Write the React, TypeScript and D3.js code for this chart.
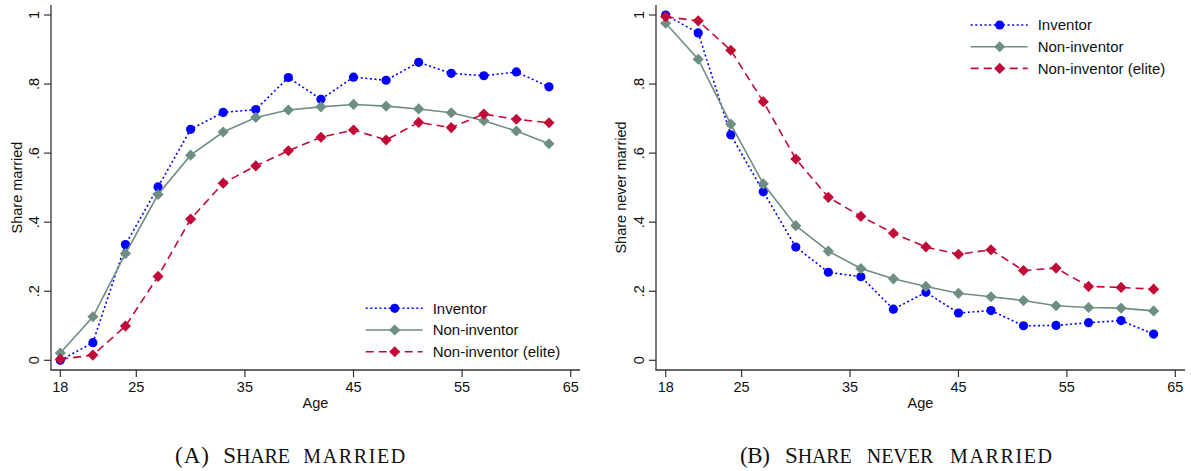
import React from "react";
import * as d3 from "d3";

const ages = [18, 21, 24, 27, 30, 33, 36, 39, 42, 45, 48, 51, 54, 57, 60, 63];

const marriedInventor = [0.0, 0.051, 0.335, 0.502, 0.669, 0.718, 0.726, 0.819, 0.756, 0.82, 0.811, 0.863, 0.831, 0.824, 0.835, 0.792];
const marriedNonInventor = [0.021, 0.126, 0.309, 0.48, 0.594, 0.661, 0.703, 0.725, 0.734, 0.741, 0.736, 0.728, 0.717, 0.694, 0.664, 0.627];
const marriedElite = [0.003, 0.015, 0.099, 0.243, 0.409, 0.513, 0.563, 0.607, 0.646, 0.667, 0.638, 0.689, 0.674, 0.713, 0.698, 0.688];

const neverInventor = [1.0, 0.948, 0.653, 0.488, 0.328, 0.255, 0.242, 0.148, 0.197, 0.137, 0.144, 0.1, 0.101, 0.109, 0.115, 0.076];
const neverNonInventor = [0.976, 0.872, 0.684, 0.511, 0.39, 0.316, 0.266, 0.236, 0.214, 0.194, 0.184, 0.173, 0.158, 0.153, 0.151, 0.143];
const neverElite = [0.995, 0.983, 0.898, 0.749, 0.583, 0.472, 0.417, 0.368, 0.328, 0.307, 0.32, 0.26, 0.267, 0.214, 0.211, 0.206];

const seriesNames = ["Inventor", "Non-inventor", "Non-inventor (elite)"];
const xTicks = [18, 25, 35, 45, 55, 65];
const yTicks = [0, 0.2, 0.4, 0.6, 0.8, 1];
const yTickLabels = ["0", ".2", ".4", ".6", ".8", "1"];

const BLUE = "#0000ff";
const GRAY = "#6e8e84";
const RED = "#c10a37";
const AXIS = "#333333";
const FONT = "'Liberation Sans', Arial, Helvetica, sans-serif";
const SERIF = "'Liberation Serif', 'Times New Roman', serif";

const styles = [
  { color: BLUE, dash: "2,2.6", symbol: "circle" },
  { color: GRAY, dash: null, symbol: "diamond" },
  { color: RED, dash: "8,5", symbol: "diamond" },
];

const circlePath = d3.symbol().type(d3.symbolCircle).size(Math.PI * 4.6 * 4.6)() as string;
const diamondPath = d3.symbol().type(d3.symbolSquare).size(62)() as string;

function Marker({ x, y, kind, color }: { x: number; y: number; kind: string; color: string }) {
  if (kind === "circle") return <path d={circlePath} transform={`translate(${x},${y})`} fill={color} />;
  return <path d={diamondPath} transform={`translate(${x},${y}) rotate(45)`} fill={color} />;
}

function Panel(props: {
  axisX: number;
  xRange: [number, number];
  axisRight: number;
  yTitle: string;
  yTitleX: number;
  yLabelX: number;
  data: number[][];
  legendX: number;
  legendY: number;
}) {
  const { axisX, xRange, axisRight, yTitle, yTitleX, yLabelX, data, legendX, legendY } = props;
  const x = d3.scaleLinear().domain([18, 65]).range(xRange);
  const y = d3.scaleLinear().domain([0, 1]).range([360.3, 15]);
  const axisY = 370;
  const line = d3
    .line<number>()
    .x((_, i) => x(ages[i]))
    .y((d) => y(d));
  const centerX = (axisX + axisRight) / 2;
  const centerY = (5 + axisY) / 2;
  return (
    <g>
      <line x1={axisX} x2={axisX} y1={5} y2={axisY} stroke={AXIS} strokeWidth={1.3} />
      <line x1={axisX - 0.6} x2={axisRight} y1={axisY} y2={axisY} stroke={AXIS} strokeWidth={1.3} />
      {yTicks.map((t, i) => (
        <g key={"y" + t}>
          <line x1={axisX - 7} x2={axisX} y1={y(t)} y2={y(t)} stroke={AXIS} strokeWidth={1.2} />
          <text
            transform={`translate(${yLabelX},${y(t)}) rotate(-90)`}
            textAnchor="middle"
            dy="0.36em"
            fontFamily={FONT}
            fontSize={14.5}
            fill="#111"
          >
            {yTickLabels[i]}
          </text>
        </g>
      ))}
      {xTicks.map((t) => (
        <g key={"x" + t}>
          <line x1={x(t)} x2={x(t)} y1={axisY} y2={axisY + 7} stroke={AXIS} strokeWidth={1.2} />
          <text x={x(t)} y={axisY + 22} textAnchor="middle" fontFamily={FONT} fontSize={14.5} fill="#111">
            {t}
          </text>
        </g>
      ))}
      <text x={centerX} y={axisY + 38} textAnchor="middle" fontFamily={FONT} fontSize={14.5} fill="#111">
        Age
      </text>
      <text
        transform={`translate(${yTitleX},${centerY}) rotate(-90)`}
        textAnchor="middle"
        dy="0.36em"
        fontFamily={FONT}
        fontSize={14.5}
        fill="#111"
      >
        {yTitle}
      </text>
      {data.map((vals, si) => (
        <g key={"s" + si}>
          <path
            d={line(vals) as string}
            fill="none"
            stroke={styles[si].color}
            strokeWidth={1.6}
            strokeDasharray={styles[si].dash ?? undefined}
          />
          {vals.map((v, i) => (
            <Marker key={i} x={x(ages[i])} y={y(v)} kind={styles[si].symbol} color={styles[si].color} />
          ))}
        </g>
      ))}
      {seriesNames.map((name, i) => {
        const ly = legendY + i * 21.7;
        return (
          <g key={"l" + i}>
            <line
              x1={legendX}
              x2={legendX + 57}
              y1={ly}
              y2={ly}
              stroke={styles[i].color}
              strokeWidth={1.6}
              strokeDasharray={styles[i].dash ?? undefined}
            />
            <Marker x={legendX + 29} y={ly} kind={styles[i].symbol} color={styles[i].color} />
            <text x={legendX + 67} y={ly + 5.3} fontFamily={FONT} fontSize={15} fill="#111">
              {name}
            </text>
          </g>
        );
      })}
    </g>
  );
}

function Caption({ words }: { words: { x: number; w: number; big: string; small: string }[] }) {
  return (
    <g>
      {words.map((wd, i) => (
        <text
          key={i}
          x={wd.x}
          y={462.7}
          fontFamily={SERIF}
          fill="#111"
          textLength={wd.w}
          lengthAdjust="spacing"
        >
          {wd.big ? <tspan fontSize={23}>{wd.big}</tspan> : null}
          {wd.small ? <tspan fontSize={20}>{wd.small}</tspan> : null}
        </text>
      ))}
    </g>
  );
}

export default function App() {
  return (
    <svg width={1191} height={471} style={{ position: "absolute", left: 0, top: 0, background: "#fff" }}>
      <rect width={1191} height={471} fill="#fff" />
      <Panel
        axisX={51}
        xRange={[60.3, 570.7]}
        axisRight={580}
        yTitle="Share married"
        yTitleX={16.5}
        yLabelX={34}
        data={[marriedInventor, marriedNonInventor, marriedElite]}
        legendX={365.7}
        legendY={308.3}
      />
      <Panel
        axisX={656}
        xRange={[665.7, 1175.3]}
        axisRight={1185}
        yTitle="Share never married"
        yTitleX={621}
        yLabelX={639}
        data={[neverInventor, neverNonInventor, neverElite]}
        legendX={970.7}
        legendY={25}
      />
      <Caption
        words={[
          { x: 175, w: 34, big: "(A)", small: "" },
          { x: 223.3, w: 66.7, big: "S", small: "HARE" },
          { x: 303.3, w: 102, big: "", small: "MARRIED" },
        ]}
      />
      <Caption
        words={[
          { x: 740, w: 30, big: "(B)", small: "" },
          { x: 785, w: 66.7, big: "S", small: "HARE" },
          { x: 866.7, w: 66.6, big: "", small: "NEVER" },
          { x: 950, w: 102, big: "", small: "MARRIED" },
        ]}
      />
    </svg>
  );
}
